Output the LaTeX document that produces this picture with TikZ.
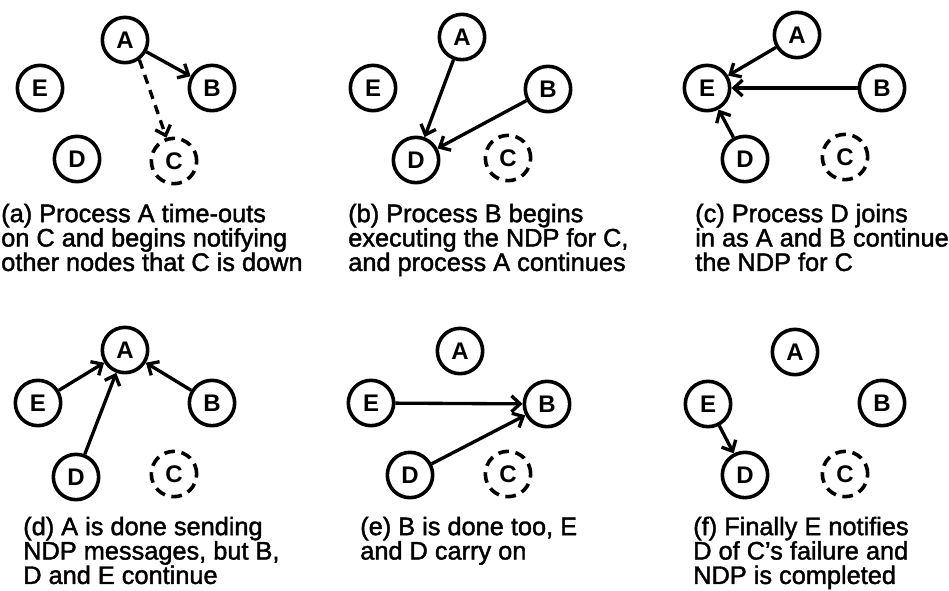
\documentclass[tikz,border=0pt]{standalone}
\usepackage{fontspec}
\setmainfont{Liberation Sans}
\newfontfamily\captionface[Ligatures=TeX,FakeBold=1.6]{Liberation Sans}
\usetikzlibrary{arrows.meta}
\begin{document}
\begin{tikzpicture}[x=0.75pt,y=-0.75pt,
  proc/.style={circle,draw,line width=2.7pt,minimum size=34pt,inner sep=0pt,
    font=\fontsize{18}{18}\selectfont\bfseries},
  failed/.style={proc,dash pattern=on 8pt off 5pt},
  msg/.style={line width=2.5pt,-{Straight Barb[length=6.5pt,width=12pt]}},
  probe/.style={msg,dash pattern=on 7pt off 5pt},
  caption/.style={anchor=north west,inner sep=0pt,align=left,
    font=\captionface\fontsize{19}{18.3}\selectfont}]
\useasboundingbox (0,0) rectangle (949,590);

% (a) A times out on C
\node[proc]   (aA) at (125,40)  {A};
\node[proc]   (aB) at (212,88)  {B};
\node[proc]   (aE) at (40,88)   {E};
\node[proc]   (aD) at (77,159)  {D};
\node[failed] (aC) at (174,161) {C};
\draw[msg]   (aA) -- (aB);
\draw[probe] (aA.-54) -- (aC.108);
\node[caption] (capa) at (1,203.5) {(a) Process A time-outs\\on C and begins notifying\\other nodes that C is down};

% (b) B starts the NDP
\node[proc]   (bA) at (462,37)  {A};
\node[proc]   (bB) at (548,89)  {B};
\node[proc]   (bE) at (373,88)  {E};
\node[proc]   (bD) at (416,160) {D};
\node[failed] (bC) at (508,158) {C};
\draw[msg] (bA) -- (bD);
\draw[msg] (bB) -- (bD);
\node[caption] (capb) at (348,203.5) {(b) Process B begins\\executing the NDP for C,\\and process A continues};

% (c) D joins
\node[proc]   (cA) at (797,35)  {A};
\node[proc]   (cB) at (882,88)  {B};
\node[proc]   (cE) at (707,88)  {E};
\node[proc]   (cD) at (745,159) {D};
\node[failed] (cC) at (845,157) {C};
\draw[msg] (cA) -- (cE);
\draw[msg] (cB) -- (cE);
\draw[msg] (cD) -- (cE);
\node[caption] (capc) at (695,203.5) {(c) Process D joins\\in as A and B continue\\the NDP for C};

% (d) A is done
\node[proc]   (dA) at (125,350) {A};
\node[proc]   (dB) at (212,403) {B};
\node[proc]   (dE) at (38,403)  {E};
\node[proc]   (dD) at (76,477)  {D};
\node[failed] (dC) at (174,474) {C};
\draw[msg] (dE) -- (dA);
\draw[msg] (dD) -- (dA);
\draw[msg] (dB) -- (dA);
\node[caption] (capd) at (23,516.5) {(d) A is done sending\\NDP messages, but B,\\D and E continue};

% (e) B is done
\node[proc]   (eA) at (460,351) {A};
\node[proc]   (eB) at (547,404) {B};
\node[proc]   (eE) at (371,403) {E};
\node[proc]   (eD) at (410,475) {D};
\node[failed] (eC) at (508,474) {C};
\draw[msg] (eE) -- (eB);
\draw[msg] (eD) -- (eB);
\node[caption] (cape) at (360,516.5) {(e) B is done too, E\\and D carry on};

% (f) NDP completes
\node[proc]   (fA) at (795,352) {A};
\node[proc]   (fB) at (882,403) {B};
\node[proc]   (fE) at (708,404) {E};
\node[proc]   (fD) at (745,475) {D};
\node[failed] (fC) at (845,474) {C};
\draw[msg] (fE) -- (fD);
\node[caption] (capf) at (693,516.5) {(f) Finally E notifies\\D of C's failure and\\NDP is completed};
\end{tikzpicture}
\end{document}
